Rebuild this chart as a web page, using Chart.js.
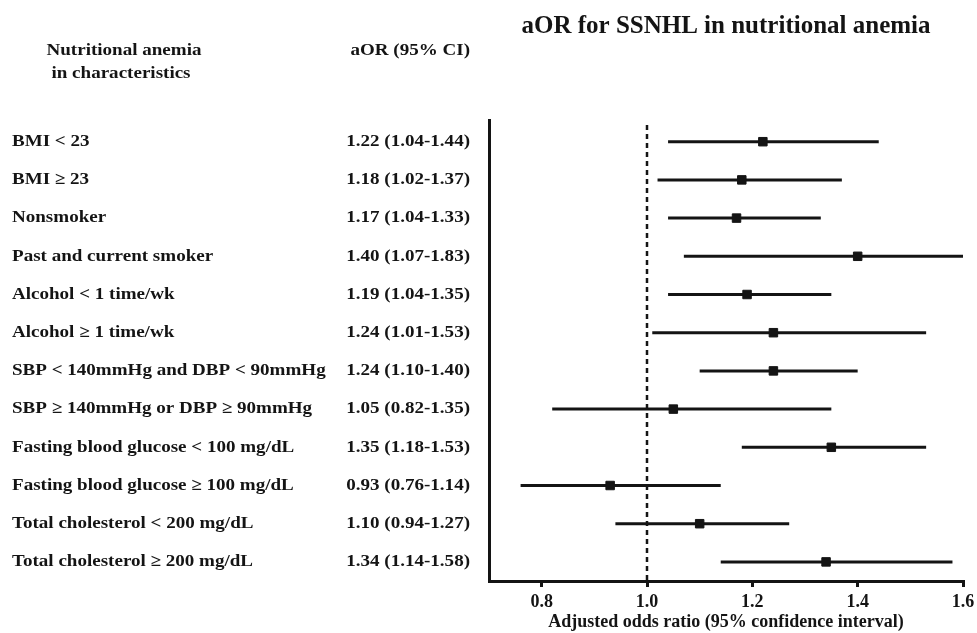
<!DOCTYPE html>
<html>
<head>
<meta charset="utf-8">
<title>aOR for SSNHL in nutritional anemia</title>
<script src="https://cdn.jsdelivr.net/npm/chart.js@4/dist/chart.umd.min.js"></script>
<style>
  html, body { margin: 0; padding: 0; background: #ffffff; }
  #forest { display: block; }
</style>
</head>
<body>
<canvas id="forest" width="977" height="633"></canvas>
<script>
// ========== DATA ==========
// Subgroups (rows top to bottom)
const subgroups = [
  'BMI < 23',
  'BMI \u2265 23',
  'Nonsmoker',
  'Past and current smoker',
  'Alcohol < 1 time/wk',
  'Alcohol \u2265 1 time/wk',
  'SBP < 140mmHg and DBP < 90mmHg',
  'SBP \u2265 140mmHg or DBP \u2265 90mmHg',
  'Fasting blood glucose < 100 mg/dL',
  'Fasting blood glucose \u2265 100 mg/dL',
  'Total cholesterol < 200 mg/dL',
  'Total cholesterol \u2265 200 mg/dL'
];
const aor   = [1.22, 1.18, 1.17, 1.40, 1.19, 1.24, 1.24, 1.05, 1.35, 0.93, 1.10, 1.34];
const lower = [1.04, 1.02, 1.04, 1.07, 1.04, 1.01, 1.10, 0.82, 1.18, 0.76, 0.94, 1.14];
const upper = [1.44, 1.37, 1.33, 1.83, 1.35, 1.53, 1.40, 1.35, 1.53, 1.14, 1.27, 1.58];
const xTicks = [0.8, 1.0, 1.2, 1.4, 1.6];
const refValue = 1.0;

const SERIF = '"Liberation Serif", "Times New Roman", serif';
const INK = '#141414';

// one line per confidence interval
const ciSets = subgroups.map((name, i) => ({
  type: 'line',
  label: name,
  data: [{ x: lower[i], y: i }, { x: upper[i], y: i }],
  borderColor: INK,
  borderWidth: 3,
  pointRadius: 0,
  showLine: true,
  order: 2
}));

// vertical reference line at aOR = 1
const refSet = {
  type: 'line',
  label: 'ref',
  data: [{ x: refValue, y: -0.44 }, { x: refValue, y: 11.5 }],
  borderColor: INK,
  borderWidth: 2.5,
  borderDash: [5, 4],
  pointRadius: 0,
  showLine: true,
  order: 3
};

// point estimates
const pointSet = {
  type: 'scatter',
  label: 'aOR',
  data: aor.map((v, i) => ({ x: v, y: i })),
  pointStyle: 'rect',
  pointRadius: 6,
  pointBorderWidth: 1,
  backgroundColor: INK,
  borderColor: INK,
  order: 1
};

// texts on the left side (labels + aOR column), placed by the y scale
const leftTable = {
  id: 'leftTable',
  afterDraw(chart) {
    const ctx = chart.ctx;
    const yScale = chart.scales.y;
    const stretch = 1.12;
    ctx.save();
    ctx.fillStyle = INK;
    ctx.font = '700 17px ' + SERIF;
    ctx.textBaseline = 'middle';

    const put = (txt, x, y, align) => {
      ctx.save();
      ctx.translate(x, y);
      ctx.scale(stretch, 1);
      ctx.textAlign = align;
      ctx.fillText(txt, 0, 0);
      ctx.restore();
    };

    // column headers
    put('Nutritional anemia', 124, 51, 'center');
    put('in characteristics', 121, 74, 'center');
    put('aOR (95% CI)', 470, 51, 'right');

    subgroups.forEach((name, i) => {
      const y = yScale.getPixelForValue(i);
      put(name, 12, y, 'left');
      const txt = aor[i].toFixed(2) + ' (' + lower[i].toFixed(2) + '-' + upper[i].toFixed(2) + ')';
      put(txt, 470, y, 'right');
    });
    ctx.restore();
  }
};

new Chart(document.getElementById('forest').getContext('2d'), {
  data: { datasets: [...ciSets, refSet, pointSet] },
  options: {
    responsive: false,
    animation: false,
    layout: { padding: { left: 489, right: 14, top: 0, bottom: 0 } },
    plugins: {
      legend: { display: false },
      tooltip: { enabled: false },
      title: {
        display: true,
        text: 'aOR for SSNHL in nutritional anemia',
        color: INK,
        font: { family: SERIF, size: 25, weight: 'bold' },
        padding: { top: 12, bottom: 78 }
      }
    },
    scales: {
      x: {
        type: 'linear',
        min: 0.7,
        max: 1.6,
        afterBuildTicks: (scale) => { scale.ticks = xTicks.map(v => ({ value: v })); },
        afterFit: (scale) => {
          scale.height = 52;
          scale.paddingRight = 0;
        },
        ticks: {
          color: INK,
          padding: 5,
          font: { family: SERIF, size: 18, weight: 'bold' },
          callback: (v) => Number(v).toFixed(1)
        },
        grid: {
          drawOnChartArea: false,
          drawTicks: true,
          tickLength: 6,
          tickWidth: 3,
          tickColor: INK,
          color: INK,
          lineWidth: 3
        },
        border: { display: true, color: INK, width: 3 },
        title: {
          display: true,
          text: 'Adjusted odds ratio (95% confidence interval)',
          color: INK,
          font: { family: SERIF, size: 18, weight: 'bold' },
          padding: { top: 0, bottom: 0 }
        }
      },
      y: {
        type: 'linear',
        reverse: true,
        min: -0.568,
        max: 11.5,
        afterFit: (scale) => { scale.width = 0; },
        ticks: { display: false },
        grid: { drawOnChartArea: false, drawTicks: false, color: INK, lineWidth: 3 },
        border: { display: true, color: INK, width: 3 }
      }
    }
  },
  plugins: [leftTable]
});
</script>
</body>
</html>
